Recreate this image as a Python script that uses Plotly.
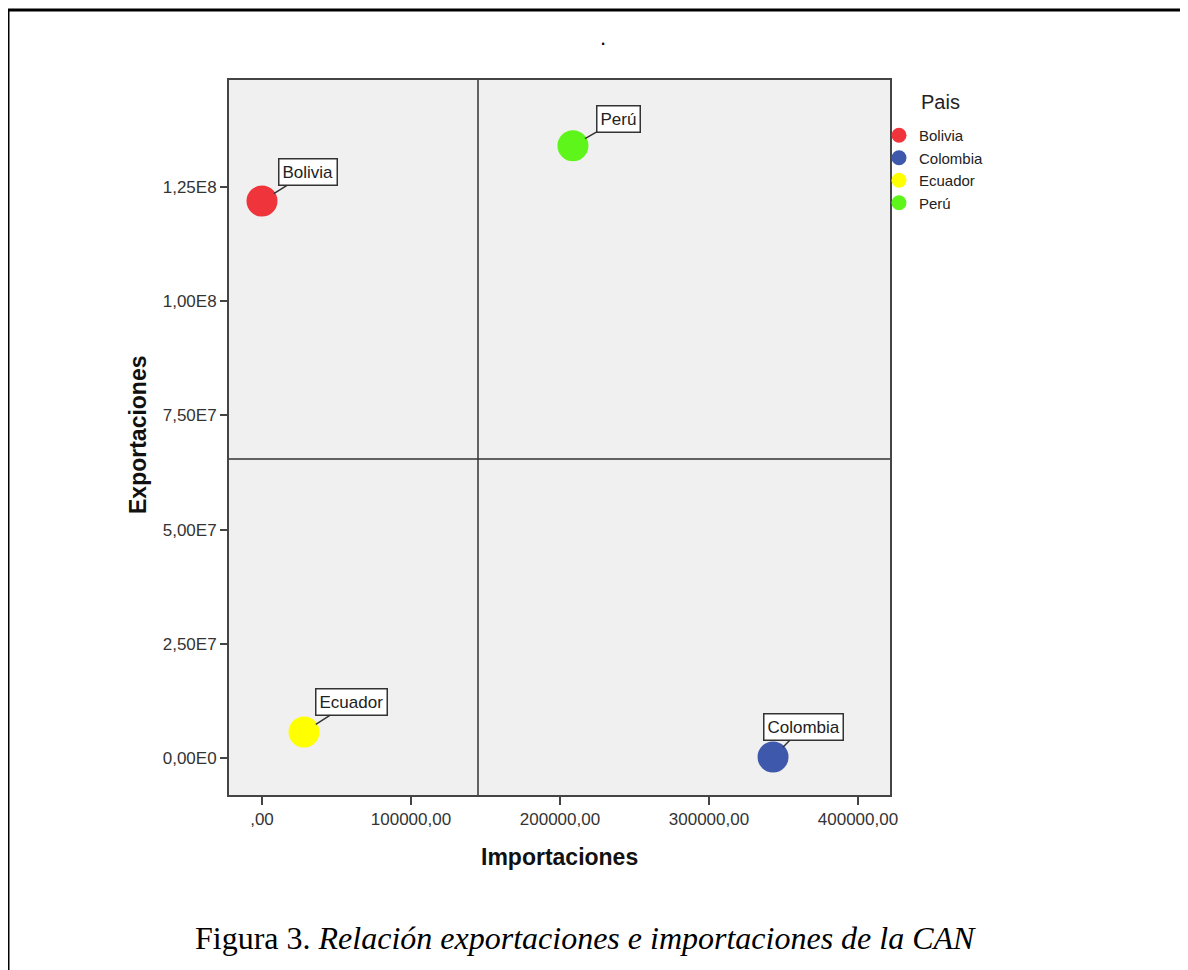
import plotly.graph_objects as go

# ---- data ----
paises = ["Bolivia", "Colombia", "Ecuador", "Perú"]
importaciones = [0, 343000, 28200, 208700]
exportaciones = [1.219e8, 0.02e7, 5.7e6, 1.340e8]
colores = ["#F0343C", "#3E58AC", "#FFFF00", "#5EF51A"]

x_tickvals = [0, 100000, 200000, 300000, 400000]
x_ticktext = [",00", "100000,00", "200000,00", "300000,00", "400000,00"]
y_tickvals = [0, 2.5e7, 5.0e7, 7.5e7, 1.0e8, 1.25e8]
y_ticktext = ["0,00E0", "2,50E7", "5,00E7", "7,50E7", "1,00E8", "1,25E8"]

label_offsets = {"Bolivia": (46, -29), "Colombia": (30, -30), "Ecuador": (47, -30), "Perú": (46, -27)}

mean_imp = sum(importaciones) / len(importaciones)
mean_exp = sum(exportaciones) / len(exportaciones)

OFF = 8  # page body margin
W, H = 1180, 962
L, T = 229 - OFF, 80 - OFF
PW, PH = 661, 715
R, B = W - L - PW, H - T - PH

def px(xp):
    return (xp - OFF - L) / PW

def py(yp):
    return (T + PH - (yp - OFF)) / PH

fig = go.Figure()

for p, xi, yi, c in zip(paises, importaciones, exportaciones, colores):
    fig.add_trace(go.Scatter(x=[xi], y=[yi], mode="markers", name=p, showlegend=False,
                             marker=dict(size=31, color=c, line=dict(width=0))))
    # legend entry
    fig.add_trace(go.Scatter(x=[None], y=[None], mode="markers", name=p, showlegend=True,
                             marker=dict(size=15, color=c, line=dict(width=0))))

# reference lines at means
fig.add_shape(type="line", xref="x", yref="paper", x0=mean_imp, x1=mean_imp, y0=0, y1=1,
              line=dict(color="#333333", width=1.5), layer="below")
fig.add_shape(type="line", xref="paper", yref="y", x0=0, x1=1, y0=mean_exp, y1=mean_exp,
              line=dict(color="#333333", width=1.5), layer="below")

# outer figure border (left/top visible)
fig.add_shape(type="rect", xref="paper", yref="paper", x0=px(8), x1=px(1300), y0=py(1100), y1=py(10),
              line=dict(color="black", width=3))

FONT = "Liberation Sans, Arial"
annotations = []
for p, xi, yi in zip(paises, importaciones, exportaciones):
    ax, ay = label_offsets[p]
    annotations.append(dict(x=xi, y=yi, xref="x", yref="y", text=p, showarrow=True,
                            ax=ax, ay=ay, arrowhead=0, arrowwidth=1.5, arrowcolor="#333333",
                            standoff=14, font=dict(family=FONT, size=17, color="#222222"),
                            bgcolor="white", bordercolor="#333333", borderwidth=1.5, borderpad=3))

def txt(text, x, y, size, family=FONT, angle=0, color="#111111", xanchor="center"):
    return dict(text=text, x=px(x), y=py(y), xref="paper", yref="paper", showarrow=False,
                xanchor=xanchor, yanchor="middle", textangle=angle,
                font=dict(family=family, size=size, color=color))

annotations += [
    txt(".", 603, 38, 22, color="black"),
    txt("<b>Importaciones</b>", 559, 857, 23),
    txt("<b>Exportaciones</b>", 138, 435, 23, angle=-90),
    txt("Pais", 919, 102, 20, color="#222222", xanchor="left"),
    txt("Figura 3. <i>Relación exportaciones e importaciones de la CAN</i>", 585, 938, 32,
        family="Liberation Serif, Times New Roman", color="black"),
]

fig.update_layout(
    width=W, height=H,
    margin=dict(l=L, r=R, t=T, b=B, autoexpand=False),
    paper_bgcolor="white", plot_bgcolor="#F0F0F0",
    showlegend=True,
    legend=dict(x=px(879), y=py(119), xanchor="left", yanchor="top",
                font=dict(family=FONT, size=15, color="#222222"),
                bgcolor="rgba(0,0,0,0)", itemclick=False),
    annotations=annotations,
    xaxis=dict(range=[-22150, 421500], tickvals=x_tickvals, ticktext=x_ticktext,
               showgrid=False, zeroline=False, showline=True, mirror=True,
               linecolor="#444444", linewidth=2, ticks="outside", ticklen=8, tickwidth=2,
               tickcolor="#444444",
               tickfont=dict(family=FONT, size=17, color="#333333")),
    yaxis=dict(range=[-8.1e6, 1.484e8], tickvals=y_tickvals, ticktext=y_ticktext,
               showgrid=False, zeroline=False, showline=True, mirror=True,
               linecolor="#444444", linewidth=2, ticks="outside", ticklen=7, tickwidth=2,
               tickcolor="#444444",
               tickfont=dict(family=FONT, size=17, color="#333333")),
)

fig.write_html("out.html")
